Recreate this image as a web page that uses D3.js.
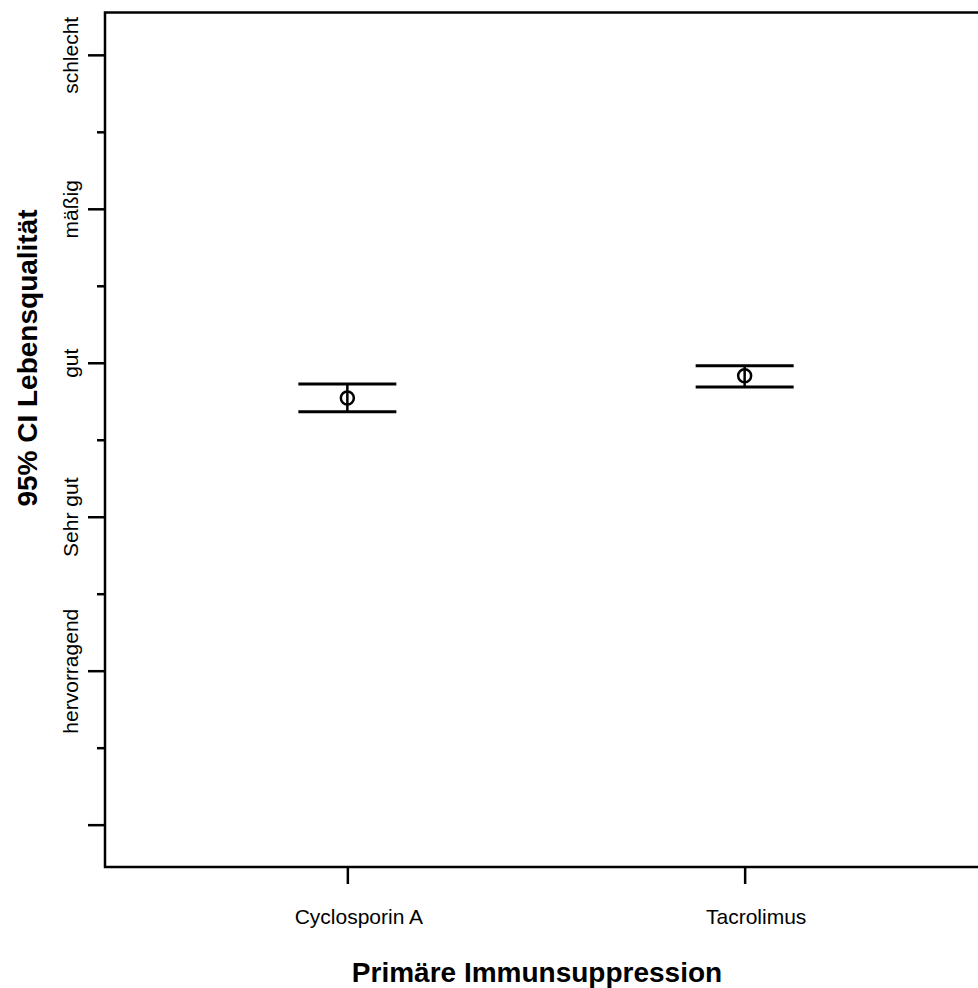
<!DOCTYPE html>
<html>
<head>
<meta charset="utf-8">
<script src="https://cdn.jsdelivr.net/npm/d3@7"></script>
<style>
  html, body { margin: 0; padding: 0; background: #fff; }
  svg { display: block; }
  text { font-family: "Liberation Sans", Arial, sans-serif; fill: #000; }
</style>
</head>
<body>
<svg id="chart" width="978" height="988"></svg>
<script>
// Means and 95% confidence limits of the quality-of-life score per group
const categories = ["Cyclosporin A", "Tacrolimus"];
const means = [2.771, 2.916];
const lowerCI = [2.682, 2.842];
const upperCI = [2.862, 2.981];

// Rating scale: integer positions carry the verbal labels
const yTickValues = [0, 0.5, 1, 1.5, 2, 2.5, 3, 3.5, 4, 4.5, 5];
const yTickLabels = { 1: "hervorragend", 2: "Sehr gut", 3: "gut", 4: "mäßig", 5: "schlecht" };

const xTitle = "Primäre Immunsuppression";
const yTitle = "95% CI Lebensqualität";

const svg = d3.select("#chart");
const plot = { left: 105, right: 987, top: 12.5, bottom: 867 };

const x = d3.scalePoint()
  .domain(categories)
  .range([plot.left, plot.right])
  .padding(0.61);

const y = d3.scaleLinear()
  .domain([-0.275, 5.275])
  .range([plot.bottom, plot.top]);

// Plot frame (right edge runs past the page)
svg.append("rect")
  .attr("x", plot.left).attr("y", plot.top)
  .attr("width", plot.right - plot.left)
  .attr("height", plot.bottom - plot.top)
  .attr("fill", "none").attr("stroke", "#000").attr("stroke-width", 2.5);

// Y axis: long ticks at whole values, short ticks at halves
const yAxis = svg.append("g")
  .attr("transform", `translate(${plot.left},0)`)
  .call(d3.axisLeft(y).tickValues(yTickValues).tickSize(17).tickFormat(d => yTickLabels[d] || ""));
yAxis.select(".domain").remove();
yAxis.selectAll(".tick line")
  .attr("stroke", "#000").attr("stroke-width", 2.5)
  .attr("x2", d => Number.isInteger(d) ? -17 : -8);
yAxis.selectAll(".tick text")
  .attr("transform", "rotate(-90)")
  .attr("x", 0).attr("y", -27).attr("dy", null)
  .attr("text-anchor", "middle")
  .style("font-size", "21px")
  .style("font-family", "'Liberation Sans', Arial, sans-serif");

// X axis
const xAxis = svg.append("g")
  .attr("transform", `translate(0,${plot.bottom})`)
  .call(d3.axisBottom(x).tickSize(17));
xAxis.select(".domain").remove();
xAxis.selectAll(".tick line").attr("stroke", "#000").attr("stroke-width", 2.5);
xAxis.selectAll(".tick text")
  .attr("y", 57).attr("dy", null).attr("dx", 11)
  .style("font-size", "21px")
  .style("font-family", "'Liberation Sans', Arial, sans-serif");

// Error bars with mean markers
const rows = categories.map((c, i) => ({ c, m: means[i], lo: lowerCI[i], hi: upperCI[i] }));
const capHalf = 49;
const bars = svg.append("g").selectAll("g").data(rows).join("g");
bars.append("line")
  .attr("x1", d => x(d.c)).attr("x2", d => x(d.c))
  .attr("y1", d => y(d.hi)).attr("y2", d => y(d.lo))
  .attr("stroke", "#000").attr("stroke-width", 2.5);
bars.append("line")
  .attr("x1", d => x(d.c) - capHalf).attr("x2", d => x(d.c) + capHalf)
  .attr("y1", d => y(d.hi)).attr("y2", d => y(d.hi))
  .attr("stroke", "#000").attr("stroke-width", 3);
bars.append("line")
  .attr("x1", d => x(d.c) - capHalf).attr("x2", d => x(d.c) + capHalf)
  .attr("y1", d => y(d.lo)).attr("y2", d => y(d.lo))
  .attr("stroke", "#000").attr("stroke-width", 3);
bars.append("circle")
  .attr("cx", d => x(d.c)).attr("cy", d => y(d.m)).attr("r", 6.5)
  .attr("fill", "none").attr("stroke", "#000").attr("stroke-width", 2.5);

// Axis titles
svg.append("text")
  .attr("x", 537).attr("y", 982)
  .attr("text-anchor", "middle")
  .style("font-size", "28px").style("font-weight", "bold")
  .text(xTitle);

svg.append("text")
  .attr("transform", "translate(37,358) rotate(-90)")
  .attr("text-anchor", "middle")
  .style("font-size", "28px").style("font-weight", "bold")
  .text(yTitle);
</script>
</body>
</html>
